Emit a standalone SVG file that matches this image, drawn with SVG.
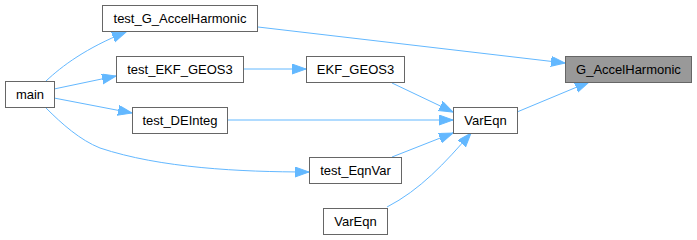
<svg xmlns="http://www.w3.org/2000/svg" width="697" height="240" viewBox="0 0 697 240">
  <style>
    .node rect { fill: #ffffff; stroke: #666666; stroke-width: 1; }
    .node.focus rect { fill: #999999; }
    .node text { font-family: "Liberation Sans", Arial, sans-serif; font-size: 13px; fill: #000000; text-anchor: middle; }
    .edge { fill: none; stroke: #63b8ff; stroke-width: 1; marker-end: url(#arrow); }
  </style>
  <defs>
    <marker id="arrow" markerUnits="userSpaceOnUse" markerWidth="15" markerHeight="11" refX="14" refY="5" orient="auto">
      <path d="M0,0 L14,5 L0,10 z" fill="#63b8ff" stroke="#63b8ff" stroke-width="1"/>
    </marker>
  </defs>

  <g id="edges">
    <path class="edge" d="M46,81 C62,66 86,48 126,32"/>
    <path class="edge" d="M54,89 L116,76"/>
    <path class="edge" d="M54,98 L132,113"/>
    <path class="edge" d="M46,108 C62,124 80,140 100,148 C160,168 240,172 309,172"/>
    <path class="edge" d="M258,27 L565,63"/>
    <path class="edge" d="M244,69 L306,69"/>
    <path class="edge" d="M392,83 L453,112"/>
    <path class="edge" d="M228,120 L453,120"/>
    <path class="edge" d="M392,157 L453,133"/>
    <path class="edge" d="M387,207 C420,190 445,163 471,133"/>
    <path class="edge" d="M517,112 L589,82"/>
  </g>

  <g id="node-main" class="node">
    <rect x="5.5" y="81.5" width="49" height="26"/>
    <text x="30" y="99">main</text>
  </g>
  <g id="node-test_G_AccelHarmonic" class="node">
    <rect x="102.5" y="5.5" width="155" height="26"/>
    <text x="180" y="23">test_G_AccelHarmonic</text>
  </g>
  <g id="node-test_EKF_GEOS3" class="node">
    <rect x="116.5" y="56.5" width="127" height="26"/>
    <text x="180" y="74">test_EKF_GEOS3</text>
  </g>
  <g id="node-test_DEInteg" class="node">
    <rect x="132.5" y="107.5" width="95" height="26"/>
    <text x="180" y="125">test_DEInteg</text>
  </g>
  <g id="node-EKF_GEOS3" class="node">
    <rect x="306.5" y="56.5" width="98" height="26"/>
    <text x="355.5" y="74">EKF_GEOS3</text>
  </g>
  <g id="node-test_EqnVar" class="node">
    <rect x="309.5" y="157.5" width="92" height="26"/>
    <text x="355.5" y="175">test_EqnVar</text>
  </g>
  <g id="node-VarEqn-caller" class="node">
    <rect x="323.5" y="208.5" width="64" height="26"/>
    <text x="355.5" y="226">VarEqn</text>
  </g>
  <g id="node-VarEqn" class="node">
    <rect x="453.5" y="107.5" width="64" height="26"/>
    <text x="485.5" y="125">VarEqn</text>
  </g>
  <g id="node-G_AccelHarmonic" class="node focus">
    <rect x="565.5" y="56.5" width="126" height="26"/>
    <text x="628.5" y="74">G_AccelHarmonic</text>
  </g>
</svg>
